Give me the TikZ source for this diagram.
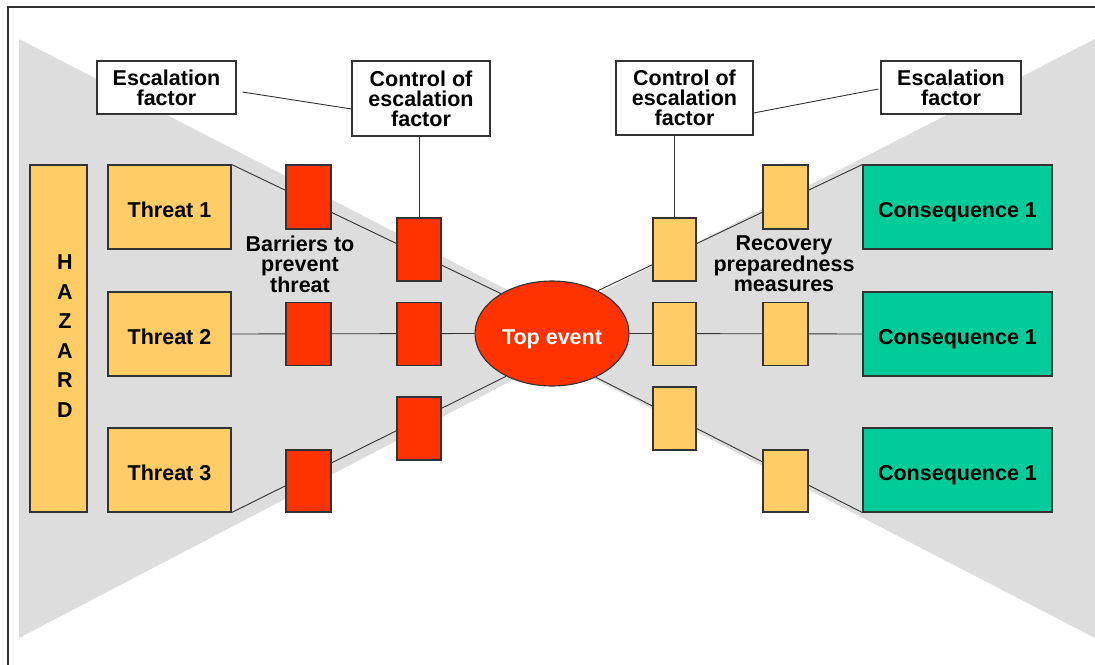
\documentclass[tikz,border=0pt]{standalone}
\usepackage{fontspec}
\setmainfont{Liberation Sans}
\usetikzlibrary{shapes.geometric,calc}
\pgfdeclarelayer{bg}
\pgfdeclarelayer{wires}
\pgfsetlayers{bg,wires,main}
\definecolor{bowgray}{HTML}{DDDDDD}
\definecolor{amber}{HTML}{FFCC66}
\definecolor{barred}{HTML}{FF3300}
\definecolor{conseq}{HTML}{00CC99}
\definecolor{edge}{HTML}{333333}
\newcommand\boxfont{\bfseries\fontsize{21.5}{20}\selectfont}
\begin{document}
\begin{tikzpicture}[x=1pt,y=-1pt,
  box/.style={draw=edge, line width=1.1pt, inner sep=0pt, align=center, font=\boxfont},
  oneline/.style={text height=20pt, text depth=0pt},
  threatbox/.style={box, oneline, fill=amber, minimum width=123pt, minimum height=84pt},
  consbox/.style={box, oneline, fill=conseq, minimum width=189pt, minimum height=84pt},
  barrier/.style={box, fill=barred, minimum width=44pt, minimum height=63pt},
  recovery/.style={box, fill=amber, minimum width=44pt, minimum height=63pt},
  notebox/.style={box, fill=white, minimum width=139pt},
  caption/.style={inner sep=0pt, align=center, font=\boxfont},
  conn/.style={draw=edge, line width=0.9pt}]
\useasboundingbox (0,0) rectangle (1095,664);

% bow-tie background and frame
\begin{pgfonlayer}{bg}
  \fill[bowgray] (19,39) -- (19,638) -- (597,336) -- cycle;
  \fill[bowgray] (1095,39) -- (1095,638) -- (513,337) -- cycle;
  \draw[edge, line width=1.2pt] (8,670) -- (8,7) -- (1110,7);
\end{pgfonlayer}

% hazard column
\node[box, fill=amber, minimum width=57pt, minimum height=347pt] (haz) at (58.5,338.5) {};
\node[caption, font=\bfseries\fontsize{21.5}{29.6}\selectfont] (hazlbl) at (65,336) {H\\A\\Z\\A\\R\\D};

% threats
\node[threatbox] (t1) at (169.5,207) {Threat 1};
\node[threatbox] (t2) at (169.5,334) {Threat 2};
\node[threatbox] (t3) at (169.5,470) {Threat 3};

% preventive barriers
\node[barrier, minimum width=45pt, minimum height=64pt] (la1) at (308.5,197) {};
\node[barrier, minimum width=45pt, minimum height=63pt] (la2) at (308.5,334) {};
\node[barrier, minimum width=45pt, minimum height=62pt] (la3) at (308.5,481) {};
\node[barrier] (lb1) at (419,249.5) {};
\node[barrier] (lb2) at (419,334) {};
\node[barrier] (lb3) at (419,428.5) {};

% top event
\node[ellipse, draw=edge, line width=1.1pt, fill=barred, inner sep=0pt,
      text height=21pt, text depth=0pt,
      minimum width=154pt, minimum height=105pt, text=white, font=\boxfont] (top) at (552,333.5) {Top event};

% recovery measures
\node[recovery, minimum width=43pt] (ra1) at (674.5,249.5) {};
\node[recovery, minimum width=43pt] (ra2) at (674.5,334) {};
\node[recovery, minimum width=43pt] (ra3) at (674.5,418.5) {};
\node[recovery, minimum width=45pt, minimum height=64pt] (rb1) at (785.5,197) {};
\node[recovery, minimum width=45pt, minimum height=63pt] (rb2) at (785.5,334) {};
\node[recovery, minimum width=45pt, minimum height=62pt] (rb3) at (785.5,481) {};

% consequences
\node[consbox] (c1) at (957.5,207) {Consequence 1};
\node[consbox] (c2) at (957.5,334) {Consequence 1};
\node[consbox] (c3) at (957.5,470) {Consequence 1};

% escalation boxes
\node[notebox, minimum height=53pt] (escL) at (166.5,87.5) {Escalation\\factor};
\node[notebox, minimum width=138pt, minimum height=75pt] (ctlL) at (421,98.5) {Control of\\escalation\\factor};
\node[notebox, minimum width=137pt, minimum height=74pt] (ctlR) at (684.5,98) {Control of\\escalation\\factor};
\node[notebox, minimum width=140pt, minimum height=53pt] (escR) at (951,87.5) {Escalation\\factor};

% captions
\node[caption] (prevlbl) at (300,264.5) {Barriers to\\prevent\\threat};
\node[caption] (reclbl) at (784,264) {Recovery\\preparedness\\measures};

% connectors
\begin{pgfonlayer}{wires}
  \draw[conn] (t1.north east) -- (top.142);
  \draw[conn] (t2.east) -- (top.west);
  \draw[conn] (t3.south east) -- (top.223);
  \draw[conn] (top.43) -- (c1.north west);
  \draw[conn] (top.east) -- (c2.west);
  \draw[conn] (top.-45) -- (c3.south west);
\end{pgfonlayer}
\draw[conn] ($(escL.east)+(6,4.5)$) -- ($(ctlL.west)+(0,10.5)$);
\draw[conn] ($(ctlR.east)+(0,15)$) -- ($(escR.west)+(-2,1.5)$);
\draw[conn] (lb1.north |- ctlL.south) -- (lb1.north);
\draw[conn] (ra1.north |- ctlR.south) -- (ra1.north);
\end{tikzpicture}
\end{document}
